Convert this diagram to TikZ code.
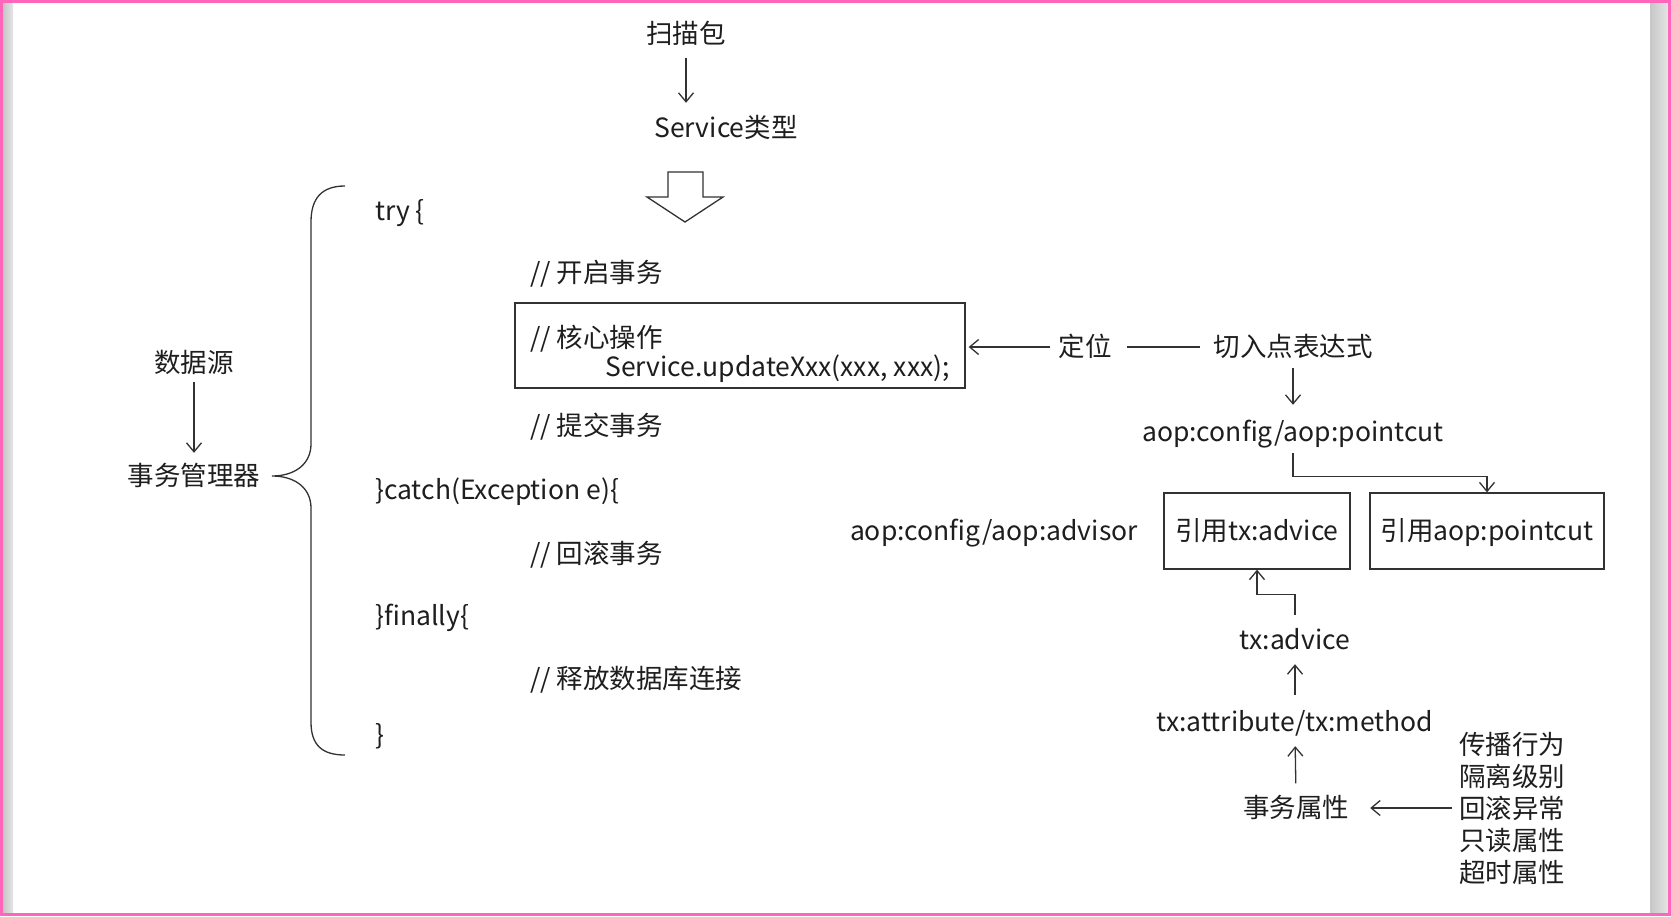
\documentclass[tikz,border=0pt]{standalone}
\usepackage{fontspec}
\setmainfont{Noto Sans CJK SC}
\usetikzlibrary{arrows.meta}
\definecolor{bordpink}{RGB}{255,102,187}
\definecolor{inkc}{RGB}{30,30,30}
\definecolor{linec}{RGB}{50,50,50}
\begin{document}
\begin{tikzpicture}[x=1pt,y=-1pt,
  txt/.style={inner sep=0pt, text height=21pt, text depth=2pt, font=\fontsize{26.5}{30}\selectfont, text=inkc},
  lbl/.style={txt, anchor=west},
  ln/.style={line width=1.3pt, draw=linec},
  arr/.style={ln, -{Straight Barb[length=9pt,width=15pt]}},
  boxn/.style={txt, draw=linec, line width=1.3pt}
]
\useasboundingbox (0,0) rectangle (1671,916);
\fill[white] (0,0) rectangle (1671,916);
\shade[left color=black!24, right color=black!10] (2,2) rectangle (13,914);
\shade[left color=black!22, right color=black!10] (1650,2) rectangle (1669,914);
\draw[bordpink, line width=3pt] (1.5,1.5) rectangle (1669.5,914.5);

% top
\node[txt] (scan) at (686,34) {扫描包};
\node[txt] (svc) at (726,128) {Service类型};
\draw[arr, shorten <=12, shorten >=13.5] (scan.south) -- (scan.south |- svc.north);
\draw[ln, fill=white, line join=miter] (668,172) -- (703,172) -- (703,197) -- (723,197) -- (685,222) -- (647,197) -- (668,197) -- cycle;

% left
\node[txt] (ds) at (194,363) {数据源};
\node[txt] (tm) at (194,476) {事务管理器};
\draw[arr, shorten <=7.5, shorten >=11.5] (ds.south) -- (tm.north);
\draw[ln] (345,186) .. controls (322,186) and (311,198) .. (311,222) -- (311,444)
  .. controls (311,464) and (295,476) .. (272,476)
  .. controls (295,476) and (311,488) .. (311,508) -- (311,722)
  .. controls (311,745) and (322,755) .. (345,755);

% code
\node[lbl] (l1) at (375,211) {try \{};
\node[lbl] (l2) at (530,273) {// 开启事务};
\node[draw=linec, line width=1.3pt, minimum width=450pt, minimum height=85pt, inner sep=0pt] (core) at (740,345.5) {};
\node[lbl] (l3a) at (530,338) {// 核心操作};
\node[lbl] (l3b) at (605,367) {Service.updateXxx(xxx, xxx);};
\node[lbl] (l4) at (530,426) {// 提交事务};
\node[lbl] (l5) at (375,490) {\}catch(Exception e)\{};
\node[lbl] (l6) at (530,554) {// 回滚事务};
\node[lbl] (l7) at (375,616) {\}finally\{};
\node[lbl] (l8) at (530,679) {// 释放数据库连接};
\node[lbl] (l9) at (375,735) {\}};

% right
\node[txt] (loc) at (1085,347) {定位};
\node[txt] (pcx) at (1293,347) {切入点表达式};
\node[txt] (pc) at (1293,432) {aop:config/aop:pointcut};
\node[txt, anchor=east] (adv) at (1138,531) {aop:config/aop:advisor};
\node[boxn, minimum width=186pt, minimum height=76pt] (reftx) at (1257,531) {引用tx:advice};
\node[boxn, minimum width=234pt, minimum height=76pt] (refpc) at (1487,531) {引用aop:pointcut};
\node[txt] (txa) at (1295,640) {tx:advice};
\node[txt] (txm) at (1295,722) {tx:attribute/tx:method};
\node[txt] (attr) at (1296,808) {事务属性};
\node[inner sep=0pt, anchor=west, align=left, font=\fontsize{26.5}{32}\selectfont, text=inkc] (list) at (1459,808)
  {传播行为\\隔离级别\\回滚异常\\只读属性\\超时属性};

\draw[arr, shorten <=8, shorten >=3] (loc.west) -- (loc.west -| core.east);
\draw[ln, shorten <=15, shorten >=13] (loc.east) -- (pcx.west);
\draw[arr, shorten <=9.5, shorten >=15.5] (pcx.south) -- (pc.north);
\draw[arr, shorten <=9.5] (pc.south) -- ++(0,32.5) -| (refpc.north);
\draw[arr, shorten <=13.5] (txa.north) -- ++(0,-33.5) -| (reftx.south);
\draw[arr, shorten <=15.5, shorten >=12.5] (txm.north) -- (txa.south);
\draw[arr, shorten <=13, shorten >=12.5] (attr.north) -- (txm.south);
\draw[arr, shorten <=7, shorten >=21] (list.west) -- (list.west -| attr.east);
\end{tikzpicture}
\end{document}
